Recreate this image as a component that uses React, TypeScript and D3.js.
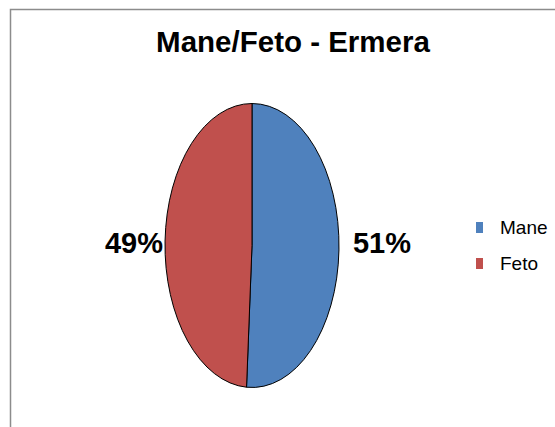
import React from "react";
import * as d3 from "d3";

const categories = ["Mane", "Feto"];
const values = [51, 49];
const colors = ["#4F81BD", "#C0504D"];
const title = "Mane/Feto - Ermera";

export default function App() {
  const W = 555, H = 427;
  const cx = 252, cy = 245.5, rx = 87, ry = 142;
  const pie = d3.pie<number>().sort(null).value((d) => d)(values);
  const arc = d3.arc<d3.PieArcDatum<number>>().innerRadius(0).outerRadius(ry);
  const labelPos = [
    { x: 382, y: 243 },
    { x: 134, y: 243 },
  ];
  return (
    <svg width={W} height={H} style={{ position: "absolute", left: 0, top: 0 }} fontFamily="Arial, 'Liberation Sans', sans-serif">
      <rect x={0} y={0} width={W} height={H} fill="#fff" />
      <path d={`M10.5,${H + 5}V9.5H${W + 5}`} fill="none" stroke="#8c8c8c" strokeWidth={1.5} />
      <text x={293} y={52} textAnchor="middle" fontSize={29.5} fontWeight="bold" fill="#000">{title}</text>
      <g transform={`translate(${cx},${cy}) scale(${rx / ry},1)`}>
        {pie.map((p, i) => (
          <path key={i} d={arc(p) || ""} fill={colors[i]} stroke="#000" strokeWidth={1} vectorEffect="non-scaling-stroke" />
        ))}
      </g>
      {pie.map((p, i) => (
        <text key={i} x={labelPos[i].x} y={labelPos[i].y} textAnchor="middle" dominantBaseline="central" fontSize={29} fontWeight="bold" fill="#000">
          {`${values[i]}%`}
        </text>
      ))}
      {categories.map((c, i) => (
        <g key={c} transform={`translate(476,${222 + i * 36})`}>
          <rect x={0} y={0} width={7} height={11} fill={colors[i]} />
          <text x={24} y={5} dominantBaseline="central" fontSize={19} fill="#000">{c}</text>
        </g>
      ))}
    </svg>
  );
}
